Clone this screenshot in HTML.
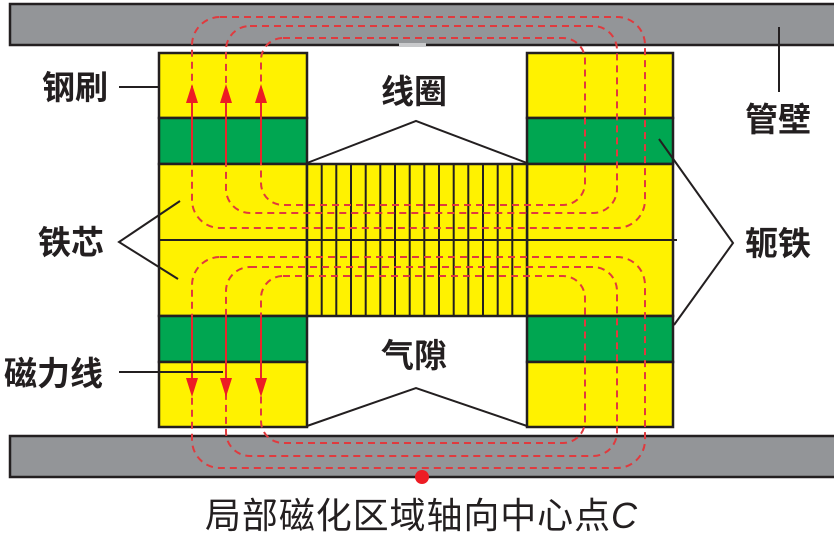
<!DOCTYPE html>
<html><head><meta charset="utf-8"><style>
body{margin:0;background:#fff;}
svg{display:block;}
text{font-family:"Liberation Sans","Noto Sans CJK SC",sans-serif;fill:#231f20;}
</style></head><body>
<svg width="834" height="534" viewBox="0 0 834 534" xmlns="http://www.w3.org/2000/svg">
<!-- tubes -->
<rect x="10" y="4" width="830" height="41" fill="#939598" stroke="#231f20" stroke-width="2.5"/>
<rect x="10" y="436" width="830" height="41" fill="#939598" stroke="#231f20" stroke-width="2.5"/>
<rect x="399" y="43" width="27" height="4" fill="#c8c9cb"/>
<!-- blocks -->
<g stroke="#231f20" stroke-width="2.5">
<rect x="159" y="53" width="148" height="65" fill="#fff200"/>
<rect x="159" y="118" width="148" height="46" fill="#00a651"/>
<rect x="159" y="164" width="148" height="152" fill="#fff200"/>
<rect x="159" y="316" width="148" height="46" fill="#00a651"/>
<rect x="159" y="362" width="148" height="65" fill="#fff200"/>
<rect x="527" y="53" width="146" height="65" fill="#fff200"/>
<rect x="527" y="118" width="146" height="46" fill="#00a651"/>
<rect x="527" y="164" width="146" height="152" fill="#fff200"/>
<rect x="527" y="316" width="146" height="46" fill="#00a651"/>
<rect x="527" y="362" width="146" height="65" fill="#fff200"/>
<rect x="307" y="164" width="220" height="152" fill="#fff200"/>
</g>
<g stroke="#231f20" stroke-width="2">
<line x1="321.7" y1="164" x2="321.7" y2="316"/><line x1="336.3" y1="164" x2="336.3" y2="316"/><line x1="351" y1="164" x2="351" y2="316"/><line x1="365.7" y1="164" x2="365.7" y2="316"/><line x1="380.3" y1="164" x2="380.3" y2="316"/><line x1="395" y1="164" x2="395" y2="316"/><line x1="409.7" y1="164" x2="409.7" y2="316"/><line x1="424.3" y1="164" x2="424.3" y2="316"/><line x1="439" y1="164" x2="439" y2="316"/><line x1="453.7" y1="164" x2="453.7" y2="316"/><line x1="468.3" y1="164" x2="468.3" y2="316"/><line x1="483" y1="164" x2="483" y2="316"/><line x1="497.7" y1="164" x2="497.7" y2="316"/><line x1="512.3" y1="164" x2="512.3" y2="316"/>
<line x1="159" y1="240" x2="677" y2="240"/>
</g>
<!-- dashed loops -->
<g fill="none" stroke="#e03a3e" stroke-width="2" stroke-dasharray="7,5">
<rect x="192" y="17" width="453" height="211" rx="28"/>
<rect x="226" y="26" width="391" height="187" rx="24"/>
<rect x="261" y="38" width="324" height="167" rx="22"/>
<rect x="192" y="257" width="453" height="211" rx="28"/>
<rect x="226" y="267" width="391" height="189" rx="24"/>
<rect x="261" y="276" width="324" height="167" rx="22"/>
</g>
<!-- arrows -->
<g stroke="#e8262b" stroke-width="2">
<line x1="192" y1="164" x2="192" y2="100"/><line x1="226" y1="164" x2="226" y2="100"/><line x1="261" y1="164" x2="261" y2="100"/>
<line x1="192" y1="316" x2="192" y2="382"/><line x1="226" y1="316" x2="226" y2="382"/><line x1="261" y1="316" x2="261" y2="382"/>
</g>
<g fill="#ed1c24">
<polygon points="192,84 186,103 198,103"/><polygon points="226,84 220,103 232,103"/><polygon points="261,84 255,103 267,103"/>
<polygon points="192,397 186,378 198,378"/><polygon points="226,397 220,378 232,378"/><polygon points="261,397 255,378 267,378"/>
</g>
<circle cx="422" cy="477" r="7" fill="#ed1c24"/>
<!-- leaders -->
<g stroke="#231f20" stroke-width="2" fill="none">
<polyline points="307,163 416,121 527,163"/>
<polyline points="307,426 416,388 527,426"/>
<line x1="119" y1="87" x2="160" y2="87"/>
<polyline points="180,201 119,242 178,279"/>
<line x1="119" y1="372" x2="223" y2="372"/>
<line x1="779" y1="27" x2="779" y2="92"/>
<polyline points="659,139 733,243 674,325"/>
</g>
<!-- labels -->
<g font-size="33" font-weight="bold">
<text x="42" y="99">钢刷</text>
<text x="38" y="254">铁芯</text>
<text x="4" y="385">磁力线</text>
<text x="381" y="103">线圈</text>
<text x="381" y="367">气隙</text>
<text x="745" y="131">管壁</text>
<text x="745" y="255">轭铁</text>
</g>
<text x="205" y="528" font-size="36" textLength="432" font-family="Liberation Serif,'Noto Serif CJK SC',serif">局部磁化区域轴向中心点<tspan font-style="italic">C</tspan></text>
</svg>
</body></html>
